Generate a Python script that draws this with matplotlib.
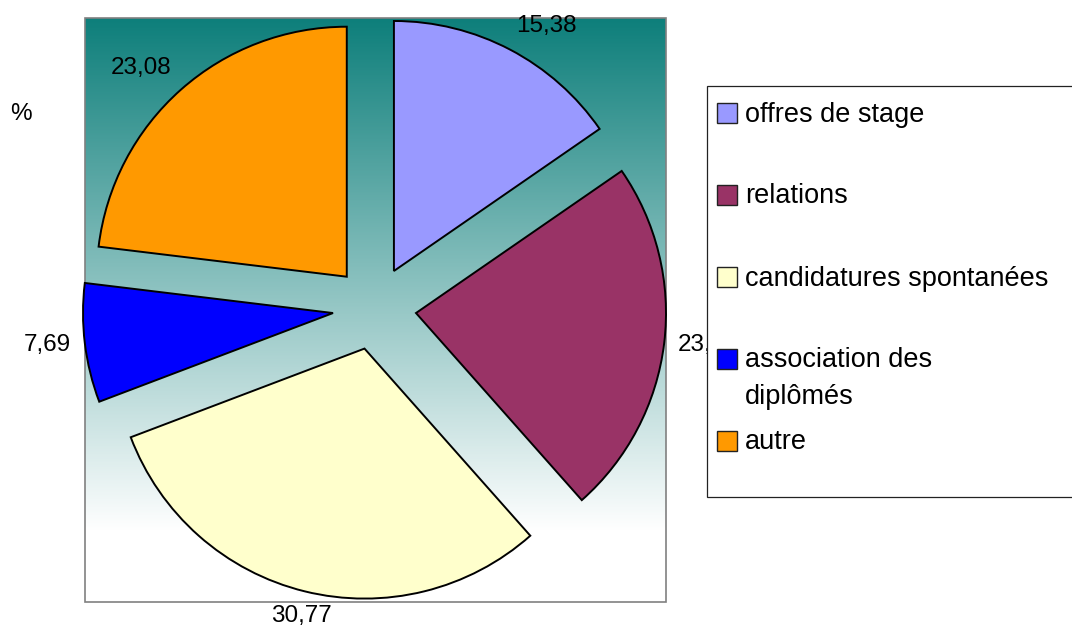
import textwrap
import numpy as np
import matplotlib
matplotlib.use("Agg")
import matplotlib.pyplot as plt
from matplotlib.colors import LinearSegmentedColormap
from matplotlib.patches import Rectangle

plt.rcParams["font.family"] = ["Liberation Sans", "DejaVu Sans"]

# Data
categories = ["offres de stage", "relations", "candidatures spontanées",
              "association des diplômés", "autre"]
values = [15.38, 23.08, 30.77, 7.69, 23.08]
colors = ["#9999FF", "#993366", "#FFFFCC", "#0000FF", "#FF9900"]
unit_label = "%"

W, H = 1072, 630
FS_LABEL = 17.5
FS_LEGEND = 19.5

fig = plt.figure(figsize=(W / 100, H / 100), dpi=100)
ax = fig.add_axes([0, 0, 1, 1])

# plot area with vertical teal-to-white gradient (pixel coords, y up)
box_x0, box_x1 = 85, 666
box_y0, box_y1 = H - 602, H - 18
t = np.linspace(0, 1, 512)
frac = np.clip(t / 0.88, 0, 1)          # 0 = teal (top), 1 = white
grad = frac.reshape(-1, 1)
cmap = LinearSegmentedColormap.from_list("bg", ["#0E7F7B", "#FFFFFF"])
ax.imshow(grad, cmap=cmap, vmin=0, vmax=1,
          extent=[box_x0, box_x1, box_y0, box_y1],
          aspect="auto", origin="upper", zorder=0, interpolation="bilinear")
ax.add_patch(Rectangle((box_x0, box_y0), box_x1 - box_x0, box_y1 - box_y0,
                       fill=False, edgecolor="#808080", lw=1.2, zorder=1))

labels = [f"{v:.2f}".replace(".", ",") for v in values]
radius = 250
wedges, texts = ax.pie(values, labels=labels, colors=colors,
                       startangle=90, counterclock=False,
                       explode=[41.8] * len(values),
                       radius=radius, center=(374.5, H - 308),
                       labeldistance=1.055,
                       wedgeprops=dict(edgecolor="black", linewidth=1.4),
                       textprops=dict(fontsize=FS_LABEL, color="black"),
                       frame=True)

for w, tx in zip(wedges, texts):
    mid = np.deg2rad((w.theta1 + w.theta2) / 2)
    c, s = np.cos(mid), np.sin(mid)
    tx.set_ha("left" if c > 0.3 else ("right" if c < -0.3 else "center"))
    tx.set_va("bottom" if s > 0.3 else ("top" if s < -0.3 else "center"))
    tx.set_zorder(3)

ax.text(20.5, H - 114, unit_label, fontsize=FS_LABEL, ha="center", va="center")

# legend box
lg_x0, lg_x1 = 707, 1090
lg_y_top, lg_y_bot = 86, 497
ax.add_patch(Rectangle((lg_x0, H - lg_y_bot), lg_x1 - lg_x0, lg_y_bot - lg_y_top,
                       facecolor="white", edgecolor="#222222", lw=0.9, zorder=10))
row_centers = [113, 194.5, 277, 358.5, 440.5]
sq = 20
for cat, col, yc in zip(categories, colors, row_centers):
    ax.add_patch(Rectangle((716.5, H - yc - sq / 2), sq, sq, facecolor=col,
                           edgecolor="#222222", lw=1.0, zorder=11))
    for i, line in enumerate(textwrap.fill(cat, 23).split("\n")):
        ax.text(745, H - (yc + 8.5 + i * 36.6), line, fontsize=FS_LEGEND,
                ha="left", va="baseline", zorder=11)

ax.set_xlim(0, W)
ax.set_ylim(0, H)
ax.set_aspect("auto")
ax.axis("off")

fig.savefig("out.png", dpi=100)
